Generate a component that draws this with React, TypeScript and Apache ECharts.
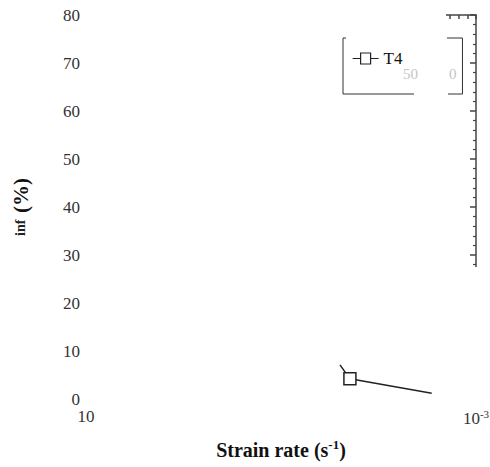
import React, { useEffect, useRef } from "react";
import * as echarts from "echarts";

const strainRates = [4.48e-4, 4.75e-4, 7.7e-4];
const elongation = [7.1, 4.2, 1.2];
const markerShown = [false, true, false];
const seriesName = "T4";
const yTicks = { min: 0, max: 80, interval: 10 };
const xRange = { min: 1e-4, max: 1e-3 };

const serif = "Liberation Serif";

export default function App() {
  const ref = useRef<HTMLDivElement>(null);
  useEffect(() => {
    const chart = echarts.init(ref.current!, null, { renderer: "svg" });
    const data = strainRates.map((x, i) => ({
      value: [x, elongation[i]],
      symbol: markerShown[i] ? "rect" : "none",
    }));
    chart.setOption({
      animation: false,
      backgroundColor: "#fff",
      grid: { left: 86, right: 14, top: 15, bottom: 68, containLabel: false, outerBoundsMode: "none" },
      legend: {
        left: 343,
        top: 38,
        padding: [12, 60, 27, 9],
        borderColor: "#333",
        borderWidth: 1,
        itemWidth: 26,
        itemHeight: 12,
        itemGap: 0,
        textStyle: { fontFamily: serif, fontSize: 17, color: "#111" },
        data: [{ name: seriesName, icon: "path://M0,6L8,6M8,0.5L18,0.5L18,11.5L8,11.5ZM18,6L26,6" }],
        itemStyle: { color: "#fff", borderColor: "#222", borderWidth: 1.2 },
        lineStyle: { color: "#222" },
      },
      xAxis: [
        {
          type: "log",
          logBase: 10,
          min: xRange.min,
          max: xRange.max,
          axisLine: { show: false },
          axisTick: { show: false },
          splitLine: { show: false },
          axisLabel: {
            margin: 9,
            color: "#333",
            fontFamily: serif,
            formatter: (v: number) =>
              Math.abs(v - 1e-3) < 1e-9 ? "{b|10}{sup|-3}" : "{b|10}",
            rich: {
              b: { fontFamily: serif, fontSize: 17, color: "#333" },
              sup: { fontFamily: serif, fontSize: 11, color: "#333", padding: [0, 0, 9, 0] },
            },
          },
          name: "{b|Strain rate (s}{sup|-1}{b|)}",
          nameLocation: "middle",
          nameGap: 39,
          nameTextStyle: {
            rich: {
              b: { fontFamily: serif, fontSize: 20, fontWeight: "bold", color: "#111" },
              sup: { fontFamily: serif, fontSize: 13, fontWeight: "bold", color: "#111", padding: [0, 0, 11, 0] },
            },
          },
        },
        {
          type: "value",
          position: "top",
          min: 0,
          max: 45,
          interval: 1,
          axisLine: { show: true, onZero: false, lineStyle: { color: "#444", width: 1.5 } },
          axisTick: { show: true, inside: true, length: 4, lineStyle: { color: "#444", width: 1.5 } },
          axisLabel: { show: false },
          splitLine: { show: false },
        },
      ],
      yAxis: [
        {
          type: "value",
          min: yTicks.min,
          max: yTicks.max,
          interval: yTicks.interval,
          axisLine: { show: false },
          axisTick: { show: false },
          splitLine: { show: false },
          axisLabel: { margin: 6, color: "#333", fontFamily: serif, fontSize: 17 },
          name: "{s|inf}  {b|(%)}",
          nameLocation: "middle",
          nameRotate: 90,
          nameGap: 55,
          nameTextStyle: {
            rich: {
              b: { fontFamily: serif, fontSize: 21, fontWeight: "bold", color: "#111" },
              s: { fontFamily: serif, fontSize: 14, fontWeight: "bold", color: "#222" },
            },
          },
        },
        {
          type: "value",
          position: "right",
          min: yTicks.min,
          max: yTicks.max,
          interval: yTicks.interval,
          axisLine: { show: true, onZero: false, lineStyle: { color: "#444", width: 1.5 } },
          axisTick: { show: true, inside: true, length: 6, lineStyle: { color: "#444", width: 1.5 } },
          minorTick: { show: true, splitNumber: 5, length: 3, lineStyle: { color: "#444", width: 1.2 } },
          axisLabel: { show: false },
          splitLine: { show: false },
        },
      ],
      series: [
        {
          name: seriesName,
          type: "line",
          data,
          symbolSize: 12,
          itemStyle: { color: "#fff", borderColor: "#222", borderWidth: 1.5 },
          lineStyle: { color: "#222", width: 1.5 },
          z: 3,
        },
      ],
      graphic: [
        { type: "rect", z: 100, shape: { x: 80, y: 8, width: 366, height: 12 }, style: { fill: "#fff" } },
        { type: "rect", z: 100, shape: { x: 466, y: 267, width: 20, height: 137 }, style: { fill: "#fff" } },
        { type: "rect", z: 100, shape: { x: 346, y: 35, width: 101, height: 6 }, style: { fill: "#fff" } },
        { type: "rect", z: 100, shape: { x: 414, y: 88, width: 34, height: 8 }, style: { fill: "#fff" } },
        { type: "text", z: 101, x: 403, y: 66, style: { text: "50", fill: "#c4c4c4", fontFamily: serif, fontSize: 15 } },
        { type: "text", z: 101, x: 449, y: 66, style: { text: "0", fill: "#c4c4c4", fontFamily: serif, fontSize: 15 } },
      ],
    });
    return () => chart.dispose();
  }, []);
  return <div ref={ref} style={{ position: "fixed", left: 0, top: 0, width: 490, height: 467 }} />;
}
